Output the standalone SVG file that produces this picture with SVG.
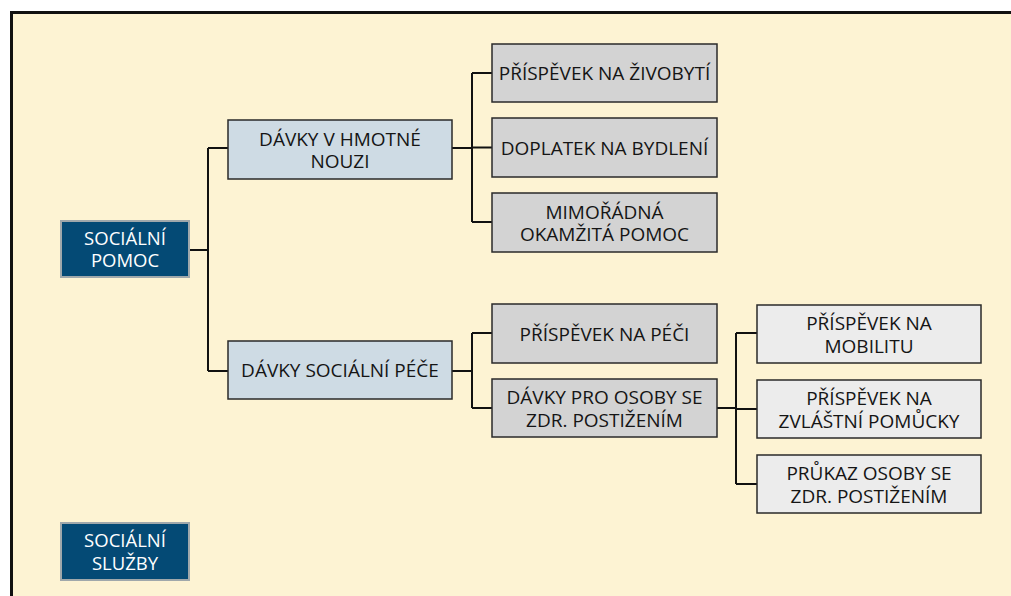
<svg xmlns="http://www.w3.org/2000/svg" width="1011" height="596" viewBox="0 0 1011 596">
<style>
.bg{fill:#fdf3d3;stroke:#111;stroke-width:3}
.dark rect{fill:#044a75;stroke:#a0a8ab;stroke-width:2}
.blue rect{fill:#cedbe4;stroke:#2a2a2a;stroke-width:1.5}
.grey rect{fill:#d3d3d3;stroke:#2a2a2a;stroke-width:1.5}
.light rect{fill:#ececec;stroke:#2a2a2a;stroke-width:1.5}
text{font-family:"Open Sans","Liberation Sans",sans-serif;font-size:19px;text-anchor:middle;fill:#151515}
.dark text{fill:#ffffff;font-size:18.5px}
#connectors path{fill:none;stroke:#111;stroke-width:2}
</style>
<rect x="0" y="0" width="1011" height="596" fill="#ffffff"/>
<rect class="bg" x="11.5" y="12.5" width="1010" height="600"/>
<g id="connectors">
<path d="M189,250 H208 M208,148 V371 M208,148 H228 M208,371 H228"/>
<path d="M452,148 H472 M472,73 V222 M472,73 H492 M472,147.5 H492 M472,222 H492"/>
<path d="M452,371 H472 M472,333 V408 M472,333 H492 M472,408 H492"/>
<path d="M717,408 H736 M736,333 V484 M736,333 H757 M736,409 H757 M736,484 H757"/>
</g>
<g id="socialni-pomoc" class="dark"><rect x="61" y="221" width="128" height="56"/><text x="125" y="244.5">SOCIÁLNÍ</text><text x="125" y="267">POMOC</text></g>
<g id="davky-hmotne-nouzi" class="blue"><rect x="228" y="120" width="224" height="59"/><text x="340" y="145.5">DÁVKY V HMOTNÉ</text><text x="340" y="168">NOUZI</text></g>
<g id="davky-socialni-pece" class="blue"><rect x="228" y="341" width="224" height="58"/><text x="340" y="377">DÁVKY SOCIÁLNÍ PÉČE</text></g>
<g id="prispevek-na-zivobyti" class="grey"><rect x="492" y="44" width="225" height="58"/><text x="604.5" y="80">PŘÍSPĚVEK NA ŽIVOBYTÍ</text></g>
<g id="doplatek-na-bydleni" class="grey"><rect x="492" y="118" width="225" height="59"/><text x="604.5" y="154.5">DOPLATEK NA BYDLENÍ</text></g>
<g id="mimoradna-okamzita-pomoc" class="grey"><rect x="492" y="193" width="225" height="59"/><text x="604.5" y="218.5">MIMOŘÁDNÁ</text><text x="604.5" y="241">OKAMŽITÁ POMOC</text></g>
<g id="prispevek-na-peci" class="grey"><rect x="492" y="304" width="225" height="59"/><text x="604.5" y="340.5">PŘÍSPĚVEK NA PÉČI</text></g>
<g id="davky-pro-osoby" class="grey"><rect x="492" y="379" width="225" height="58"/><text x="604.5" y="404">DÁVKY PRO OSOBY SE</text><text x="604.5" y="426.5">ZDR. POSTIŽENÍM</text></g>
<g id="prispevek-na-mobilitu" class="light"><rect x="757" y="305" width="224" height="58"/><text x="869" y="330">PŘÍSPĚVEK NA</text><text x="869" y="352.5">MOBILITU</text></g>
<g id="prispevek-na-pomucky" class="light"><rect x="757" y="380" width="224" height="58"/><text x="869" y="405">PŘÍSPĚVEK NA</text><text x="869" y="427.5">ZVLÁŠTNÍ POMŮCKY</text></g>
<g id="prukaz-osoby" class="light"><rect x="757" y="455" width="224" height="58"/><text x="869" y="480">PRŮKAZ OSOBY SE</text><text x="869" y="502.5">ZDR. POSTIŽENÍM</text></g>
<g id="socialni-sluzby" class="dark"><rect x="61" y="523" width="128" height="57"/><text x="125" y="547">SOCIÁLNÍ</text><text x="125" y="569.5">SLUŽBY</text></g>
</svg>
